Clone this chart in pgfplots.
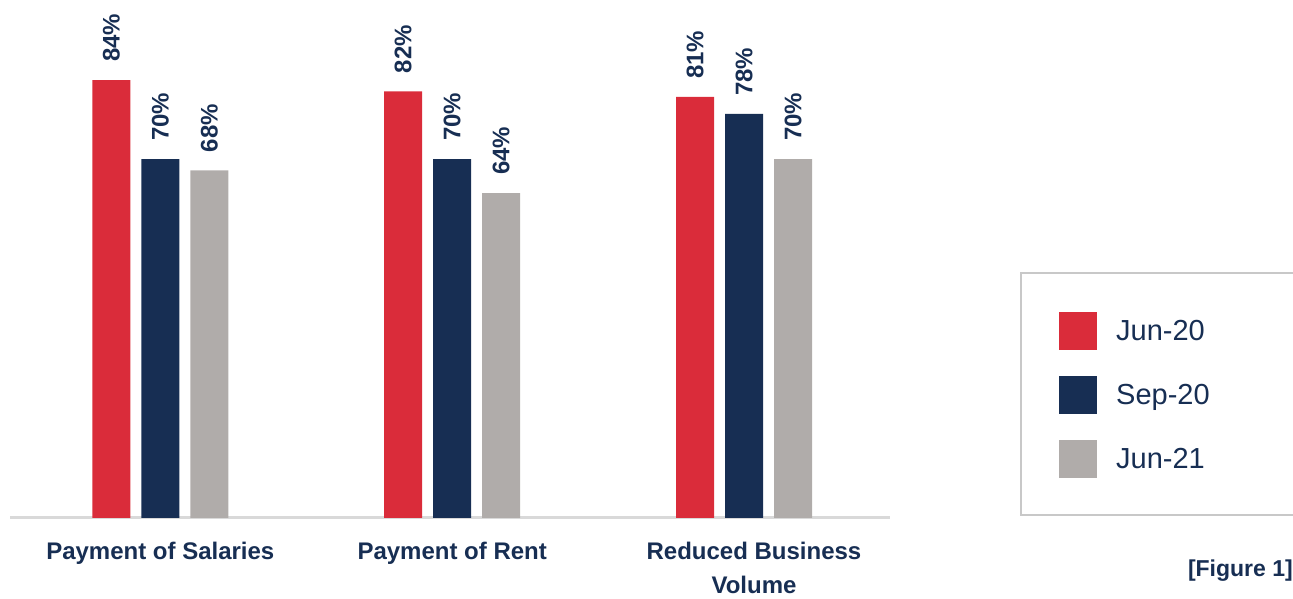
\documentclass[border=0pt]{standalone}
\usepackage{pgfplots}
\pgfplotsset{compat=1.18}
\usepackage{fontspec}
\setmainfont{Liberation Sans}

\definecolor{jred}{HTML}{DA2C3A}
\definecolor{navy}{HTML}{172E53}
\definecolor{jgray}{HTML}{B0ACAA}
\definecolor{axisgray}{HTML}{D9D9D9}
\definecolor{boxgray}{HTML}{C8C8C8}

% square legend swatches
\pgfplotsset{ybar legend/.style={legend image code/.code={\fill[##1,draw=none] (0pt,-19pt) rectangle (38pt,19pt);}}}

\begin{document}
\begin{tikzpicture}
  \begin{axis}[
    scale only axis,
    width=880pt, height=518pt,
    xmin=-0.515, xmax=2.5,
    ymin=6.5, ymax=98.16,
    ybar=11pt, bar width=38pt,
    axis x line=bottom,
    axis y line=none,
    x axis line style={-, draw=axisgray, line width=3pt},
    major tick length=0pt,
    ytick=\empty,
    xtick={0,1,2.034},
    xticklabels={Payment of Salaries, Payment of Rent, {Reduced Business\\Volume}},
    xticklabel style={align=center, text=navy, inner sep=0pt, yshift=-24pt,
      font=\bfseries\fontsize{24}{34}\selectfont},
    /pgf/number format/assume math mode=true,
    nodes near coords={\pgfmathprintnumber{\pgfplotspointmeta}\%},
    every node near coord/.append style={yshift=18pt, rotate=90, anchor=west,
      inner sep=0pt, text=navy, font=\bfseries\fontsize{24}{28}\selectfont},
    legend style={at={(1.19205,0.39768)}, anchor=north west, draw=none, fill=none,
      inner sep=0pt, row sep=26pt, column sep=19pt, text=navy,
      font=\fontsize{29}{35}\selectfont, nodes={inner sep=0pt}},
    legend cell align=left,
  ]
    \addplot[fill=jred, draw=none] coordinates {(0,84) (1,82) (2,81)};
    \addplot[fill=navy, draw=none] coordinates {(0,70) (1,70) (2,78)};
    \addplot[fill=jgray, draw=none] coordinates {(0,68) (1,64) (2,70)};
    \legend{Jun-20, Sep-20, Jun-21}
  \end{axis}
  % legend frame, open at the right edge
  \draw[boxgray, line width=1.2pt] (1290pt,245pt) -- (1011pt,245pt) -- (1011pt,3pt) -- (1290pt,3pt);
  \node[anchor=east, inner sep=0pt, text=navy, font=\bfseries\fontsize{23}{28}\selectfont]
    at (1283pt,-53pt) {[Figure 1]};
  \pgfresetboundingbox
  \useasboundingbox (-10pt,-81pt) rectangle (1283pt,518pt);
\end{tikzpicture}
\end{document}
